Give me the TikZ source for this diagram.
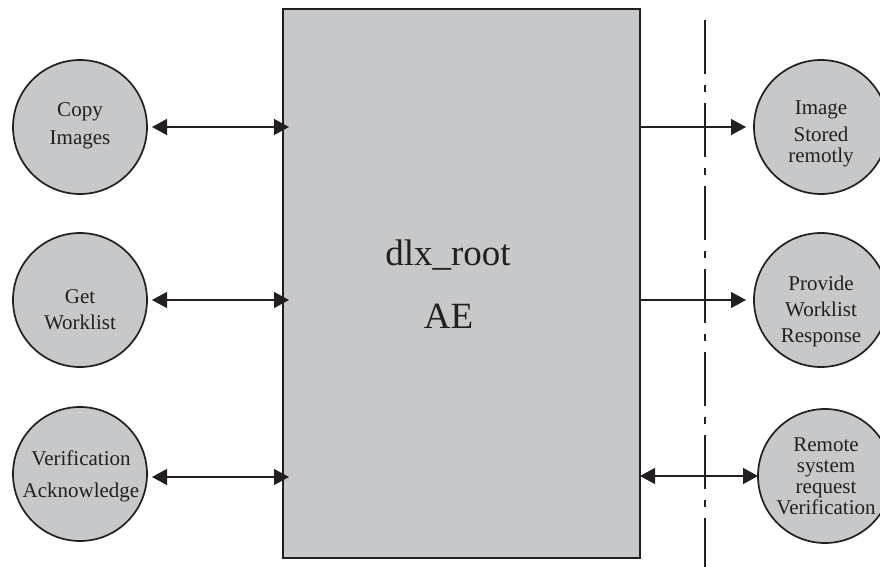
\documentclass[tikz,border=0pt]{standalone}
\usepackage{fontspec}
\setmainfont{Liberation Serif}
\usetikzlibrary{arrows.meta}
\definecolor{ink}{HTML}{231F20}
\definecolor{paper}{HTML}{C7C8CA}
\tikzset{
  actor/.style={circle,draw=ink,fill=paper,line width=1.7pt,minimum size=134pt,inner sep=0pt,outer sep=0pt},
  caption/.style={align=center,text=ink,inner sep=0pt,font=\fontsize{21}{21}\selectfont},
  title/.style={anchor=base,text=ink,inner sep=0pt,font=\fontsize{37}{37}\selectfont},
  mainbox/.style={rectangle,draw=ink,fill=paper,line width=1.5pt,minimum width=357pt,minimum height=549pt,inner sep=0pt,outer sep=0pt},
  tip/.style={-{Triangle[length=15pt,width=16pt]},line width=1.4pt,draw=ink,fill=ink},
  bitip/.style={{Triangle[length=15pt,width=16pt]}-{Triangle[length=15pt,width=16pt]},line width=1.4pt,draw=ink,fill=ink},
  boundary/.style={draw=ink,line width=2.3pt,dash pattern=on 54pt off 11pt on 7pt off 11pt}
}
\begin{document}
\begin{tikzpicture}[x=1pt,y=-1pt]
\useasboundingbox (0,0) rectangle (880,567);
\node[mainbox] (box) at (461.5,283.5) {};
\node[title] (t1) at (448,265) {dlx\_root};
\node[title] (t2) at (448.5,328) {AE};
\coordinate (bt) at (705,20);
\coordinate (bb) at (705,567);
\draw[boundary] (bt) -- (bb);
\node[actor] (copy) at (80,127) {};
\node[actor] (get) at (80,300) {};
\node[actor] (ack) at (80,474) {};
\node[actor] (stored) at (821,127) {};
\node[actor] (prov) at (821,300) {};
\node[actor] (rem) at (825,476) {};
\node[caption] (copyt) at (80,125.5) {Copy\\[7pt]Images};
\node[caption] (gett) at (80,310) {Get\\[5pt]Worklist};
\node[caption] (ackt) at (81,476) {Verification\\[11pt]Acknowledge};
\node[caption] (storedt) at (821,134) {Image\\[6pt]Stored\\remotly};
\node[caption] (provt) at (821,311) {Provide\\[5pt]Worklist\\[5pt]Response};
\node[caption] (remt) at (826,476) {Remote\\system\\request\\Verification};
\coordinate (ackin) at (box.west |- 0,477);
\draw[bitip,shorten <=5pt,shorten >=-6pt] (copy.east) -- (copy.east -| box.west);
\draw[bitip,shorten <=5pt,shorten >=-6pt] (get.east) -- (get.east -| box.west);
\draw[bitip,shorten <=5pt,shorten >=-6pt] (ack.east |- ackin) -- (ackin);
\draw[tip,shorten >=8pt] (stored.west -| box.east) -- (stored.west);
\draw[tip,shorten >=8pt] (prov.west -| box.east) -- (prov.west);
\draw[bitip] (rem.west -| box.east) -- (rem.west);
\end{tikzpicture}
\end{document}
